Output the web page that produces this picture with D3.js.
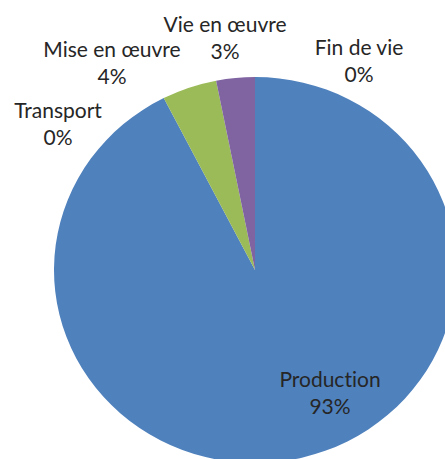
<!DOCTYPE html>
<html>
<head>
<meta charset="utf-8">
<script src="https://cdn.jsdelivr.net/npm/d3@7"></script>
<style>
  body { margin: 0; background: #fff; }
  svg { display: block; }
  text { font-family: Lato, "Noto Sans", sans-serif; font-size: 21px; fill: #262626; font-variant-ligatures: none; }
</style>
</head>
<body>
<svg id="canvas" width="445" height="459"></svg>
<script>
window.addEventListener('DOMContentLoaded', () => {

// categories, clockwise from 12 o'clock
const phases = ['Production', 'Transport', 'Mise en œuvre', 'Vie en œuvre', 'Fin de vie']
const shares = [92.5, 0.0, 4.4, 3.1, 0.0]
const colours = ['#4F81BD', '#C0504D', '#9BBB59', '#8064A2', '#4BACC6']

// where Excel put each label (centre of the two lines, first baseline)
const labelSpots = {
  'Production': [330, 387],
  'Transport': [58, 118],
  'Mise en œuvre': [112, 57],
  'Vie en œuvre': [225, 32],
  'Fin de vie': [359, 55]
}

let svg = d3.select('#canvas')

let cx = 255, cy = 270, rx = 201, ry = 193

let colour = d3.scaleOrdinal().domain(phases).range(colours)

let pie = d3.pie()
  .sort(null)
  .value(d => d.value)

let arc = d3.arc().innerRadius(0).outerRadius(rx)

let slices = phases.map((p, i) => ({ name: p, value: shares[i] }))

let pieG = svg.append('g')
  .attr('transform', `translate(${cx},${cy}) scale(1,${ry / rx})`)

pieG.selectAll('path')
  .data(pie(slices))
  .enter().append('path')
  .attr('d', arc)
  .attr('fill', d => colour(d.data.name))

let labels = svg.append('g')
  .selectAll('text')
  .data(slices)
  .enter().append('text')
  .attr('text-anchor', 'middle')
  .attr('x', d => labelSpots[d.name][0])
  .attr('y', d => labelSpots[d.name][1])

labels.append('tspan')
  .attr('x', d => labelSpots[d.name][0])
  .text(d => d.name)

labels.append('tspan')
  .attr('x', d => labelSpots[d.name][0])
  .attr('dy', 26.5)
  .text(d => Math.round(d.value) + '%')

})
</script>
</body>
</html>
